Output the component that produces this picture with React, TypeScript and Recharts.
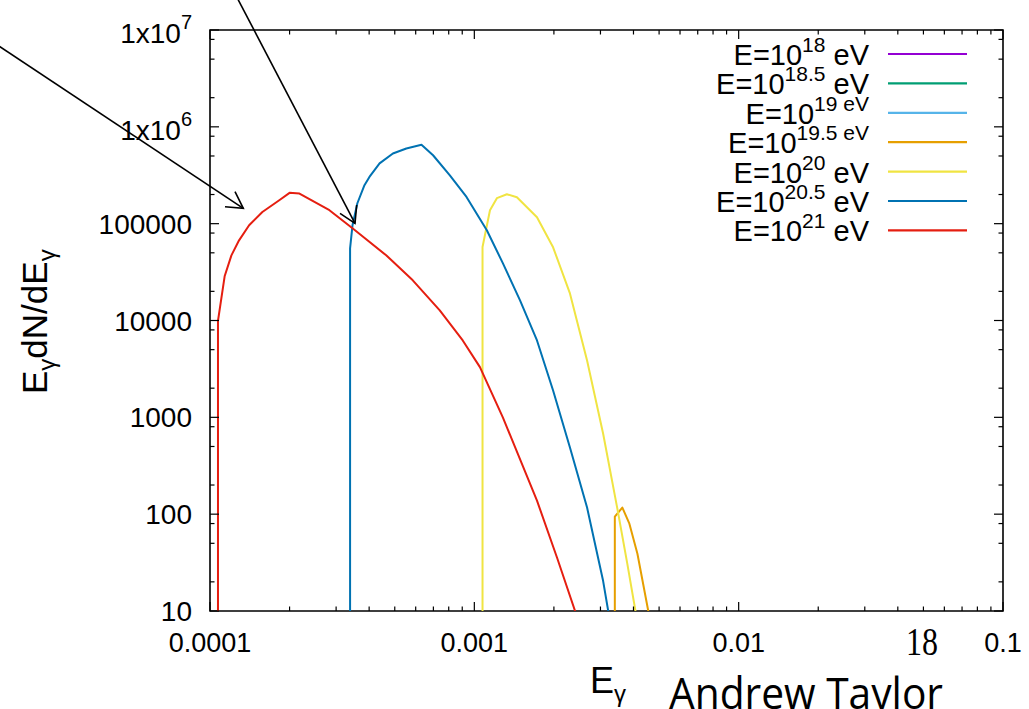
import { LineChart, Line, XAxis, YAxis, Legend, ReferenceArea } from "recharts"

const W = 1029
const H = 709
const PLOT_LEFT = 210
const PLOT_RIGHT = 1003
const PLOT_TOP = 30
const PLOT_BOTTOM = 611
const SANS = "'Liberation Sans', Arial, Helvetica, sans-serif"

// E_gamma values and E dN/dE for each primary energy
const e21X = [1.072e-4, 1.072e-4, 1.136e-4, 1.205e-4, 1.288e-4, 1.406e-4, 1.578e-4, 1.828e-4, 2.0e-4, 2.18e-4, 2.83e-4, 3.46e-4, 4.64e-4, 5.85e-4, 7.4e-4, 9.04e-4, 1.05e-3, 1.283e-3, 1.726e-3, 2.056e-3, 2.405e-3, 2.5e-3]
const e21Y = [1, 9900, 28600, 47100, 67300, 96200, 132000, 174600, 208000, 204600, 137600, 89500, 47100, 26000, 12700, 6220, 3300, 995, 138, 35.5, 10, 7]

const e205X = [3.388e-4, 3.388e-4, 3.46e-4, 3.61e-4, 3.84e-4, 4.01e-4, 4.38e-4, 4.92e-4, 5.53e-4, 6.31e-4, 6.98e-4, 8.08e-4, 9.34e-4, 1.115e-3, 1.283e-3, 1.489e-3, 1.726e-3, 1.986e-3, 2.3e-3, 2.67e-3, 3.07e-3, 3.21e-3, 3.3e-3]
const e205Y = [1, 55700, 96200, 162500, 249500, 304000, 419000, 531000, 598000, 652000, 509000, 316000, 189000, 85500, 38900, 16150, 6220, 1893, 488, 117, 20.5, 10, 6]

const e20X = [1.074e-3, 1.074e-3, 1.146e-3, 1.217e-3, 1.328e-3, 1.449e-3, 1.726e-3, 1.986e-3, 2.3e-3, 2.67e-3, 3.07e-3, 3.47e-3, 3.79e-3, 4.07e-3, 4.2e-3]
const e20Y = [1, 57400, 137600, 183300, 201300, 187500, 116400, 57000, 19050, 3860, 681, 117, 30.8, 10, 6]

const e195X = [3.4e-3, 3.4e-3, 3.63e-3, 3.86e-3, 4.14e-3, 4.55e-3, 4.65e-3]
const e195Y = [1, 94.3, 117, 79.8, 39.0, 10, 7]

// nothing visible above 10 for the lower energies
const e19X: number[] = []
const e19Y: number[] = []
const e185X: number[] = []
const e185Y: number[] = []
const e18X: number[] = []
const e18Y: number[] = []

const exponents = ["18", "18.5", "19", "19.5", "20", "20.5", "21"]
const evInSuperscript = [false, false, true, true, false, false, false]
const colors = ["#9400d3", "#009e73", "#56b4e9", "#e69f00", "#f0e442", "#0072b2", "#e51e10"]

const xMajor = [0.0001, 0.001, 0.01, 0.1]
const xTickLabels = ["0.0001", "0.001", "0.01", "0.1"]
const xMinorMult = [2, 3, 4, 5, 6, 7, 8, 9]

const yMajor = [10, 100, 1000, 10000, 100000, 1000000, 10000000]
const yTickLabels = [["10", ""], ["100", ""], ["1000", ""], ["10000", ""], ["100000", ""], ["1x10", "6"], ["1x10", "7"]]
const yMinorMult = [2, 5, 8]

const toPoints = (xs: number[], ys: number[]) => xs.map((x, i) => ({ x, y: ys[i] }))

const seriesData = [
  toPoints(e18X, e18Y),
  toPoints(e185X, e185Y),
  toPoints(e19X, e19Y),
  toPoints(e195X, e195Y),
  toPoints(e20X, e20Y),
  toPoints(e205X, e205Y),
  toPoints(e21X, e21Y),
]

const xTicks = [
  ...xMajor,
  ...xMajor.slice(0, 3).flatMap((m) => xMinorMult.map((k) => m * k)),
].sort((a, b) => a - b)

const yTicks = [
  ...yMajor,
  ...yMajor.slice(0, 6).flatMap((m) => yMinorMult.map((k) => m * k)),
].sort((a, b) => a - b)

const findMajor = (arr: number[], v: number) => arr.findIndex((m) => Math.abs(m - v) / m < 1e-6)

function XTick(props: any) {
  const { x, payload } = props
  const idx = findMajor(xMajor, payload.value)
  const len = idx >= 0 ? 9 : 4.5
  return (
    <g>
      <line x1={x} y1={PLOT_BOTTOM} x2={x} y2={PLOT_BOTTOM - len} stroke="#000" strokeWidth={1.2} />
      <line x1={x} y1={PLOT_TOP} x2={x} y2={PLOT_TOP + len} stroke="#000" strokeWidth={1.2} />
      {idx >= 0 && (
        <text x={x} y={652} textAnchor="middle" fontSize={27} fontFamily={SANS} fill="#000">
          {xTickLabels[idx]}
        </text>
      )}
    </g>
  )
}

function YTick(props: any) {
  const { y, payload } = props
  const idx = findMajor(yMajor, payload.value)
  const len = idx >= 0 ? 9 : 4.5
  const lab = idx >= 0 ? yTickLabels[idx] : null
  return (
    <g>
      <line x1={PLOT_LEFT} y1={y} x2={PLOT_LEFT + len} y2={y} stroke="#000" strokeWidth={1.2} />
      <line x1={PLOT_RIGHT} y1={y} x2={PLOT_RIGHT - len} y2={y} stroke="#000" strokeWidth={1.2} />
      {lab && (
        <text x={192} y={y + (lab[1] ? 12.7 : 10)} textAnchor="end" fontSize={28} fontFamily={SANS} fill="#000">
          <tspan>{lab[0]}</tspan>
          {lab[1] && (
            <tspan dy={-14} fontSize={20}>
              {lab[1]}
            </tspan>
          )}
        </text>
      )}
    </g>
  )
}

function KeyBox(props: any) {
  const payload = props.payload || []
  return (
    <svg width={W} height={H} style={{ position: "absolute", left: 0, top: 0, pointerEvents: "none" }}>
      {payload.map((entry: any, i: number) => {
        const ly = 54 + i * 29.4
        const sup = evInSuperscript[i]
        return (
          <g key={`key-${i}`}>
            <text x={869} y={ly + 11} textAnchor="end" fontSize={29} fontFamily={SANS} fill="#000">
              <tspan>E=10</tspan>
              <tspan dy={-13} fontSize={21}>
                {sup ? `${exponents[i]} eV` : exponents[i]}
              </tspan>
              {!sup && <tspan dy={13}> eV</tspan>}
            </text>
            <line x1={888} y1={ly} x2={967} y2={ly} stroke={entry.color} strokeWidth={2.2} />
          </g>
        )
      })}
    </svg>
  )
}

export default function App() {
  return (
    <div style={{ position: "absolute", left: 0, top: 0, width: W, height: H, background: "#fff", overflow: "hidden" }}>
      <LineChart
        width={W}
        height={H}
        margin={{ top: PLOT_TOP, right: W - PLOT_RIGHT, left: 0, bottom: 0 }}
      >
        <XAxis
          dataKey="x"
          type="number"
          scale="log"
          domain={[0.0001, 0.1]}
          allowDataOverflow
          ticks={xTicks}
          interval={0}
          tick={XTick}
          tickLine={false}
          axisLine={false}
          height={H - PLOT_BOTTOM}
        />
        <YAxis
          dataKey="y"
          type="number"
          scale="log"
          domain={[10, 10000000]}
          allowDataOverflow
          ticks={yTicks}
          interval={0}
          tick={YTick}
          tickLine={false}
          axisLine={false}
          width={PLOT_LEFT}
        />
        <ReferenceArea x1={0.0001} x2={0.1} y1={10} y2={10000000} fill="none" stroke="#000" strokeWidth={1.6} ifOverflow="visible" />
        {seriesData.map((d, i) => (
          <Line
            key={exponents[i]}
            data={d}
            dataKey="y"
            name={`E=10^${exponents[i]} eV`}
            type="linear"
            stroke={colors[i]}
            strokeWidth={2}
            strokeLinejoin="round"
            dot={false}
            activeDot={false}
            isAnimationActive={false}
          />
        ))}
        <Legend
          layout="horizontal"
          verticalAlign="middle"
          align="center"
          content={KeyBox}
          wrapperStyle={{ position: "absolute", left: 0, top: 0, width: W, height: H, pointerEvents: "none" }}
        />
      </LineChart>

      {/* annotations on top of the plot */}
      <svg width={W} height={H} style={{ position: "absolute", left: 0, top: 0, pointerEvents: "none" }}>
        <g stroke="#000" strokeWidth={1.6} fill="none">
          <line x1={-2} y1={45.5} x2={243.3} y2={208.3} />
          <polyline points="225,206.7 243.3,208.3 235,191.7" />
          <line x1={235.7} y1={-5} x2={355} y2={223.3} />
          <polyline points="340,213.3 355,223.3 356.7,205" />
        </g>
        <text transform="translate(47, 394) rotate(-90)" fontSize={35} fontFamily={SANS} fill="#000">
          <tspan>E</tspan>
          <tspan dy={8} fontSize={24}>γ</tspan>
          <tspan dy={-8}>dN/dE</tspan>
          <tspan dy={8} fontSize={24}>γ</tspan>
        </text>
        <text x={590} y={693} fontSize={36} fontFamily={SANS} fill="#000">
          <tspan>E</tspan>
          <tspan dy={9} fontSize={24}>γ</tspan>
        </text>
        <text x={906} y={655} fontSize={40} fontFamily="'Liberation Serif', 'Times New Roman', serif" fill="#000" textLength={32} lengthAdjust="spacingAndGlyphs">
          18
        </text>
        <text x={669} y={709} fontSize={44} fontFamily="'Open Sans', sans-serif" fill="#000" textLength={274} lengthAdjust="spacingAndGlyphs">
          Andrew Taylor
        </text>
      </svg>
    </div>
  )
}
